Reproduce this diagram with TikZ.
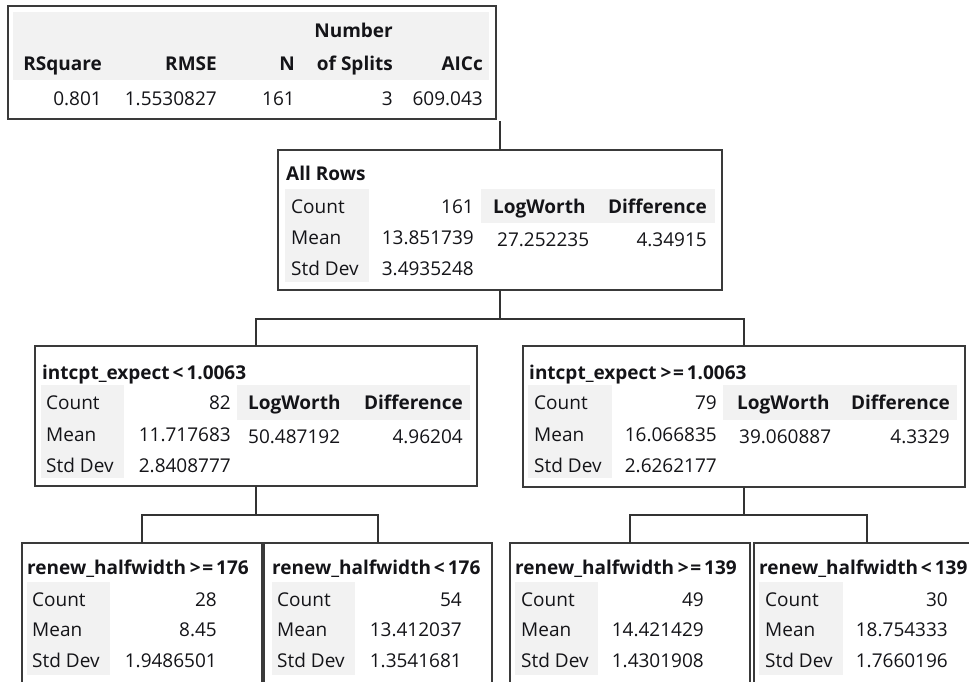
\documentclass[tikz,border=0pt]{standalone}
\usepackage{fontspec}
\setmainfont{Open Sans}
\definecolor{ink}{HTML}{141418}
\definecolor{framegray}{HTML}{3A3A3A}
\definecolor{linegray}{HTML}{333333}
\definecolor{cellgray}{HTML}{F2F2F2}
\newcommand{\tabfont}{\fontsize{19}{23}\selectfont}
% relation signs in split titles, set with a little air around them
\newcommand{\rlt}{\kern3pt<\kern3pt}
\newcommand{\rge}{\kern4pt>\kern1.5pt=\kern3pt}
\tikzset{
  frame/.style={draw=framegray, line width=1.8pt, fill=white, inner sep=0pt, outer sep=0pt, anchor=north west},
  lab/.style={inner sep=0pt, anchor=base west, text=ink},
  num/.style={inner sep=0pt, anchor=base east, text=ink},
  hdw/.style={inner sep=0pt, anchor=base west, text=ink, font=\tabfont\bfseries},
  hde/.style={inner sep=0pt, anchor=base east, text=ink, font=\tabfont\bfseries},
  edge/.style={draw=linegray, line width=1.8pt},
}
\begin{document}
\begin{tikzpicture}[x=1pt, y=-1pt, font=\tabfont]
\useasboundingbox (0,0) rectangle (969,681);

% ---------- frames ----------
\node[frame, minimum width=488pt, minimum height=113pt] (fit) at (8,6) {};
\node[frame, minimum width=444pt, minimum height=140pt] (all) at (278,150) {};
\node[frame, minimum width=442pt, minimum height=140pt] (lc) at (35,346) {};
\node[frame, minimum width=442pt, minimum height=141pt] (rc) at (523,346) {};
\node[frame, minimum width=240pt, minimum height=160pt] (l1) at (22,543) {};
\node[frame, minimum width=228pt, minimum height=160pt] (l2) at (264,543) {};
\node[frame, minimum width=240pt, minimum height=160pt] (l3) at (510,543) {};
\node[frame, minimum width=226pt, minimum height=160pt] (l4) at (754,543) {};

% ---------- shaded cells ----------
\fill[cellgray] (13,12) rectangle (489,80);
\fill[cellgray] (285,189) rectangle (369,282);
\fill[cellgray] (481,189) rectangle (715,223);
\fill[cellgray] (41,385) rectangle (124,478);
\fill[cellgray] (237,385) rectangle (470,420);
\fill[cellgray] (528,385) rectangle (612,478);
\fill[cellgray] (723,385) rectangle (957,420);
\fill[cellgray] (27,582) rectangle (110,675);
\fill[cellgray] (272,582) rectangle (355,675);
\fill[cellgray] (515,582) rectangle (598,675);
\fill[cellgray] (759,582) rectangle (843,675);

% ---------- connectors ----------
\coordinate (fitfoot) at (500,121);
\draw[edge] (all.north) -- (all.north |- fitfoot);
\draw[edge] (all.south) -- ++(0,29) coordinate (j0) -| (lc.north);
\draw[edge] (j0) -| (rc.north);
\draw[edge] (lc.south) -- ++(0,29) coordinate (j1) -| (l1.north);
\draw[edge] (j1) -| (l2.north);
\draw[edge] (rc.south) -- ++(0,28) coordinate (j2) -| (l3.north);
\draw[edge] (j2) -| (l4.north);

% ---------- fit summary ----------
\node[hde] (fnum) at (393,37) {Number};
\node[hde] (frsq) at (102,70) {RSquare};
\node[hde] (frmse) at (217,70) {RMSE};
\node[hde] (fn) at (295,70) {N};
\node[hde] (fspl) at (393,70) {of Splits};
\node[hde] (faic) at (483,70) {AICc};
\node[num] (vrsq) at (102,105) {0.801};
\node[num] (vrmse) at (217,105) {1.5530827};
\node[num] (vn) at (295,105) {161};
\node[num] (vspl) at (393,105) {3};
\node[num] (vaic) at (483,105) {609.043};

% ---------- all rows ----------
\node[hdw] (atitle) at (286,180) {All Rows};
\node[lab] (acl) at (291,213) {Count};
\node[lab] (aml) at (291,244) {Mean};
\node[lab] (asl) at (291,275) {Std Dev};
\node[num] (acv) at (474,213) {161};
\node[num] (amv) at (474,244) {13.851739};
\node[num] (asv) at (474,275) {3.4935248};
\node[hdw] (alw) at (493,213) {LogWorth};
\node[hde] (adf) at (707,213) {Difference};
\node[lab] (alwv) at (497,246) {27.252235};
\node[num] (adfv) at (707,246) {4.34915};

% ---------- left split ----------
\node[hdw] (ltitle) at (42,379) {intcpt\_expect\rlt1.0063};
\node[lab] (lcl) at (46,409) {Count};
\node[lab] (lml) at (46,441) {Mean};
\node[lab] (lsl) at (46,472) {Std Dev};
\node[num] (lcv) at (231,409) {82};
\node[num] (lmv) at (231,441) {11.717683};
\node[num] (lsv) at (231,472) {2.8408777};
\node[hdw] (llw) at (248,409) {LogWorth};
\node[hde] (ldf) at (463,409) {Difference};
\node[lab] (llwv) at (248,443) {50.487192};
\node[num] (ldfv) at (463,443) {4.96204};

% ---------- right split ----------
\node[hdw] (rtitle) at (529,379) {intcpt\_expect\rge1.0063};
\node[lab] (rcl) at (534,409) {Count};
\node[lab] (rml) at (534,441) {Mean};
\node[lab] (rsl) at (534,472) {Std Dev};
\node[num] (rcv) at (717,409) {79};
\node[num] (rmv) at (717,441) {16.066835};
\node[num] (rsv) at (717,472) {2.6262177};
\node[hdw] (rlw) at (737,409) {LogWorth};
\node[hde] (rdf) at (950,409) {Difference};
\node[lab] (rlwv) at (739,443) {39.060887};
\node[num] (rdfv) at (950,443) {4.3329};

% ---------- leaves ----------
\node[hdw] (t1) at (27,574) {renew\_halfwidth\rge176};
\node[lab] (c1) at (32,606) {Count};
\node[lab] (m1) at (32,636) {Mean};
\node[lab] (s1) at (32,667) {Std Dev};
\node[num] (cv1) at (217,606) {28};
\node[num] (mv1) at (217,636) {8.45};
\node[num] (sv1) at (217,667) {1.9486501};

\node[hdw] (t2) at (272,574) {renew\_halfwidth\rlt176};
\node[lab] (c2) at (277,606) {Count};
\node[lab] (m2) at (277,636) {Mean};
\node[lab] (s2) at (277,667) {Std Dev};
\node[num] (cv2) at (462,606) {54};
\node[num] (mv2) at (462,636) {13.412037};
\node[num] (sv2) at (462,667) {1.3541681};

\node[hdw] (t3) at (515,574) {renew\_halfwidth\rge139};
\node[lab] (c3) at (521,606) {Count};
\node[lab] (m3) at (521,636) {Mean};
\node[lab] (s3) at (521,667) {Std Dev};
\node[num] (cv3) at (704,606) {49};
\node[num] (mv3) at (704,636) {14.421429};
\node[num] (sv3) at (704,667) {1.4301908};

\node[hdw] (t4) at (759,574) {renew\_halfwidth\rlt139};
\node[lab] (c4) at (765,606) {Count};
\node[lab] (m4) at (765,636) {Mean};
\node[lab] (s4) at (765,667) {Std Dev};
\node[num] (cv4) at (948,606) {30};
\node[num] (mv4) at (948,636) {18.754333};
\node[num] (sv4) at (948,667) {1.7660196};
\end{tikzpicture}
\end{document}
